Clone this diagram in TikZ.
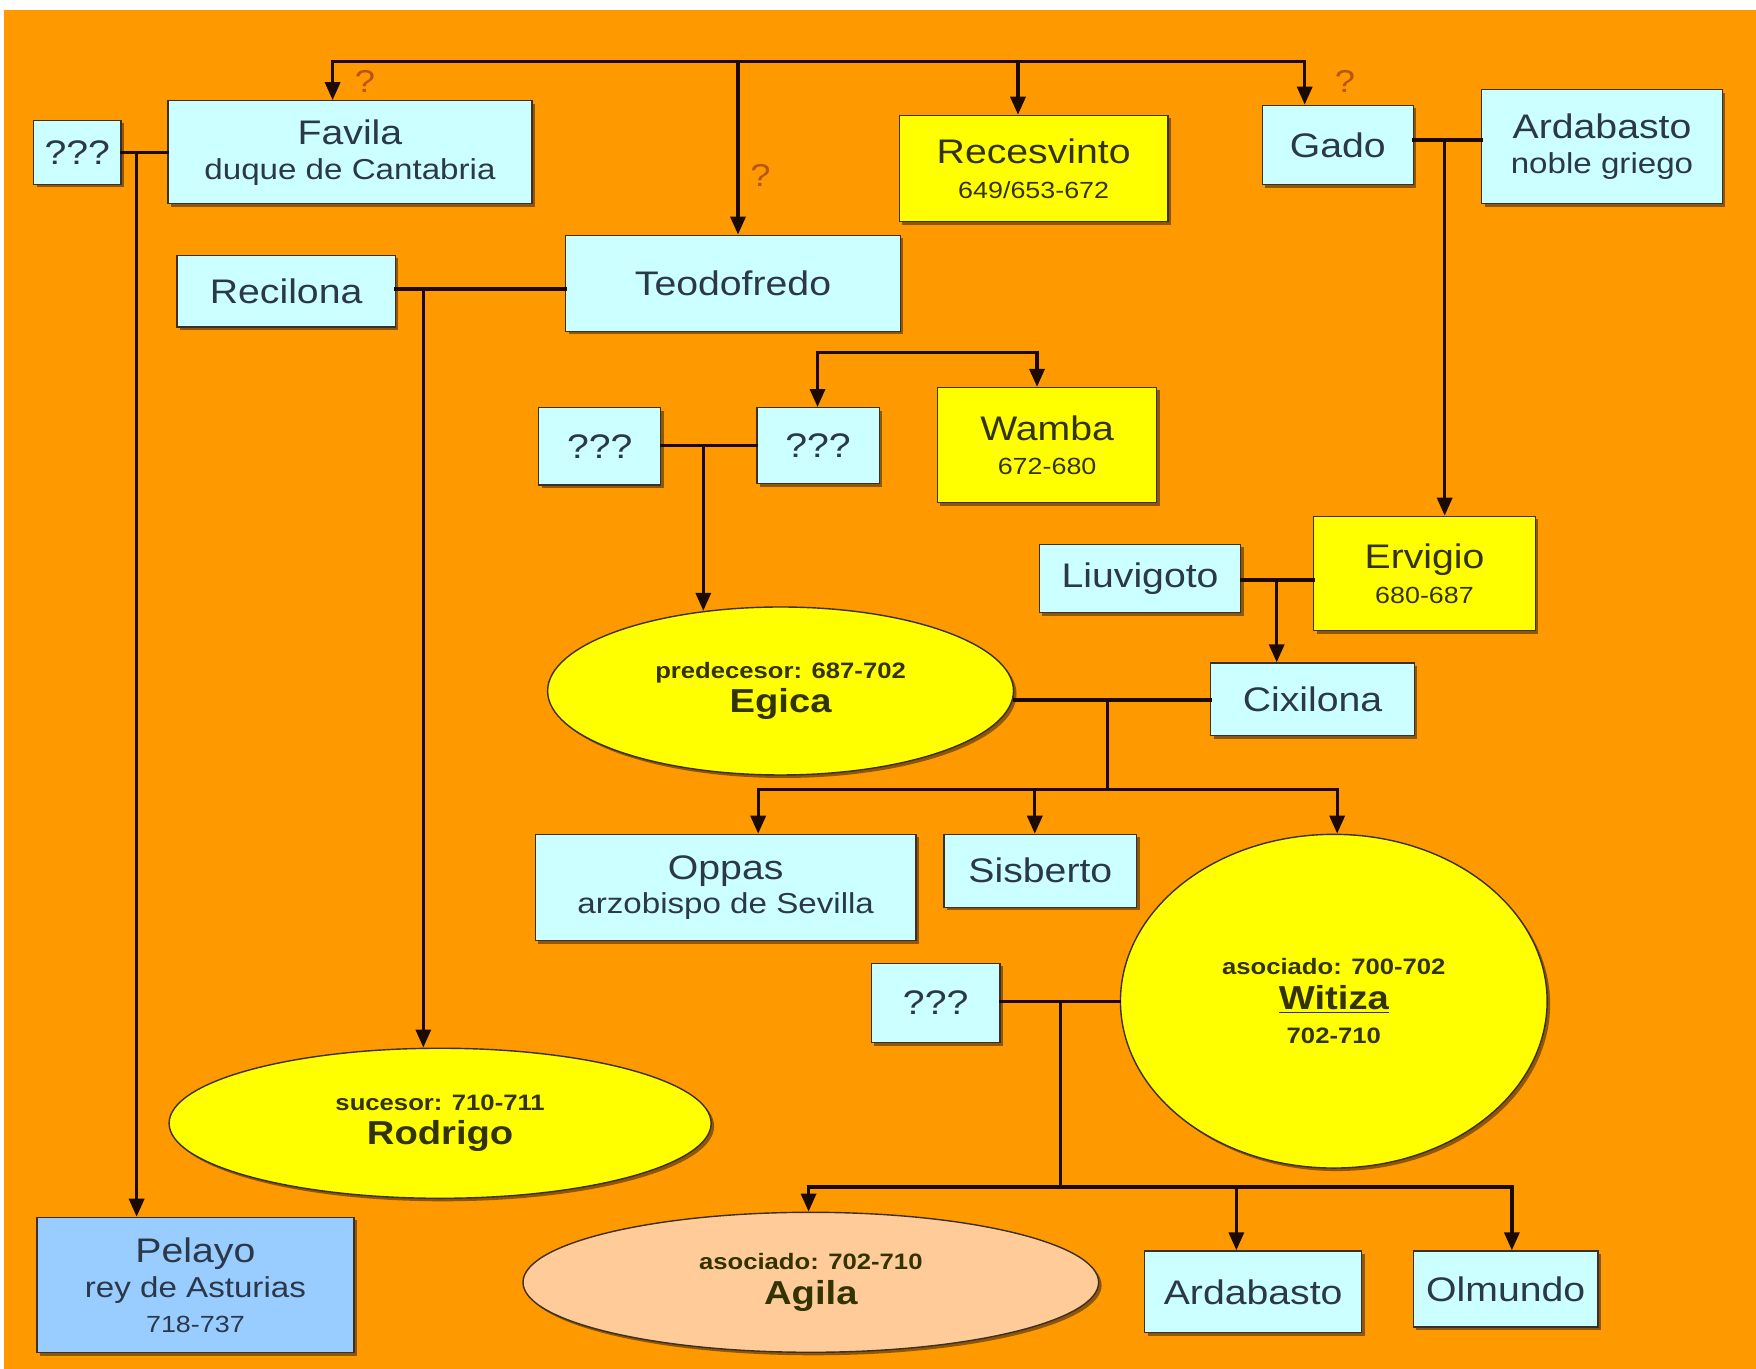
\documentclass[tikz,border=0pt]{standalone}
\usepackage{fontspec}
\setmainfont{Liberation Sans}[FakeStretch=1.15]
\usetikzlibrary{shapes.geometric,arrows.meta,shadows}
\definecolor{bg}{HTML}{FF9900}
\definecolor{lblue}{HTML}{CCFFFF}
\definecolor{yel}{HTML}{FFFF00}
\definecolor{pblue}{HTML}{99CCFF}
\definecolor{peach}{HTML}{FFCC99}
\definecolor{tblue}{HTML}{2A3848}
\definecolor{tyel}{HTML}{333300}
\definecolor{linec}{HTML}{1A0A00}
\definecolor{qmc}{HTML}{B85514}
\newcommand\fN{\fontsize{19.4pt}{19.8pt}\selectfont}
\newcommand\fS{\fontsize{16.4pt}{19.8pt}\selectfont}
\newcommand\fD{\fontsize{13.3pt}{19.8pt}\selectfont}
\newcommand\fL{\fontsize{12.7pt}{19.8pt}\selectfont\bfseries}
\newcommand\fB{\fontsize{18.9pt}{19.8pt}\selectfont\bfseries}
\tikzset{
  bx/.style 2 args={minimum width=#1*0.0224cm, minimum height=#2*0.0224cm, inner sep=0pt},
  shad/.style={drop shadow={shadow xshift=0.06cm, shadow yshift=-0.06cm, opacity=0.55, fill=black!75!brown}},
  basebox/.style={rectangle, draw=linec!85, line width=0.7pt, align=center, shad, font=\fN},
  bluebox/.style={basebox, fill=lblue, text=tblue},
  yelbox/.style={basebox, fill=yel, text=tyel},
  pelbox/.style={basebox, fill=pblue, text=tblue},
  baseell/.style={ellipse, draw=linec!85, line width=0.8pt, text=tyel, align=center, shad, font=\fL},
  yelell/.style={baseell, fill=yel},
  peachell/.style={baseell, fill=peach},
  conn/.style={draw=linec, line width=1.9pt, line cap=rect},
  arr/.style={conn, -{Triangle[length=0.36cm,width=0.3cm]}},
  qm/.style={text=qmc, font=\fontsize{18pt}{18pt}\selectfont, inner sep=0pt}
}
\begin{document}
\begin{tikzpicture}[x=0.0224cm,y=-0.0224cm]
\useasboundingbox (0,0) rectangle (1568,1222.3);
\fill[white] (0,0) rectangle (1568,1222.3);
\fill[bg] (3.6,8.9) rectangle (1568,1222.3);

% nodes
\node[bluebox, bx={78}{57}] (qL) at (69,136) {???};
\node[bluebox, bx={325}{92}] (Favila) at (312.5,136) {Favila\\{\fS duque de Cantabria}};
\node[yelbox, bx={240}{95}] (Recesvinto) at (923,150.5) {Recesvinto\\{\fD 649/653-672}};
\node[bluebox, bx={135}{71}] (Gado) at (1194.5,129.5) {Gado};
\node[bluebox, bx={215}{102}] (ArdN) at (1430.5,131) {Ardabasto\\{\fS noble griego}};
\node[bluebox, bx={195}{64}] (Recilona) at (255.5,260) {Recilona};
\node[bluebox, bx={299}{86}] (Teodofredo) at (654.5,253) {Teodofredo};
\node[bluebox, bx={109}{69}] (q1) at (535.5,398.5) {???};
\node[bluebox, bx={109}{68}] (q2) at (730.5,398) {???};
\node[yelbox, bx={196}{103}] (Wamba) at (935,397.5) {Wamba\\{\fD 672-680}};
\node[yelbox, bx={198}{102}] (Ervigio) at (1272,512) {Ervigio\\{\fD 680-687}};
\node[bluebox, bx={180}{61}] (Liuvigoto) at (1018,516.5) {Liuvigoto};
\node[yelell, bx={416}{150}] (Egica) at (697,617) {predecesor: 687-702\\{\fB Egica}};
\node[bluebox, bx={182}{65}] (Cixilona) at (1172,624.5) {Cixilona};
\node[bluebox, bx={340}{95}] (Oppas) at (648,792.5) {Oppas\\{\fS arzobispo de Sevilla}};
\node[bluebox, bx={172}{65}] (Sisberto) at (929,777.5) {Sisberto};
\node[yelell, bx={381}{298}] (Witiza) at (1191,894) {asociado: 700-702\\{\fB \underline{Witiza}}\\702-710};
\node[bluebox, bx={115}{71}] (q3) at (835.5,895.5) {???};
\node[yelell, bx={484}{134}] (Rodrigo) at (393,1003) {sucesor: 710-711\\{\fB Rodrigo}};
\node[pelbox, bx={283}{121}] (Pelayo) at (174.5,1147.5) {Pelayo\\{\fS rey de Asturias}\\{\fD 718-737}};
\node[peachell, bx={514}{125}] (Agila) at (724,1145) {asociado: 702-710\\{\fB Agila}};
\node[bluebox, bx={194}{73}] (ArdB) at (1119,1153.5) {Ardabasto};
\node[bluebox, bx={165}{68}] (Olmundo) at (1344.5,1151) {Olmundo};

% question marks
\node[qm] (qm1) at (326,73) {?};
\node[qm] (qm2) at (679,157) {?};
\node[qm] (qm3) at (1201,73) {?};

% top line
\coordinate (tA) at (297,55);
\coordinate (tB) at (1165,55);
\coordinate (tT) at (659,55);
\coordinate (tR) at (909,55);
\draw[arr] (tB) -- (tA) -- (tA |- Favila.north);
\draw[arr] (tA) -- (tB) -- (tB |- Gado.north);
\draw[arr] (tT) -- (tT |- Teodofredo.north);
\draw[arr] (tR) -- (tR |- Recesvinto.north);

% ??? - Favila -> Pelayo
\coordinate (mL) at (122,136);
\draw[conn] (qL.east) -- (Favila.west);
\draw[arr] (mL) -- (mL |- Pelayo.north);

% Recilona - Teodofredo -> Rodrigo
\coordinate (mR) at (378,258);
\draw[conn] (mR -| Recilona.east) -- (mR -| Teodofredo.west);
\draw[arr] (mR) -- (mR |- Rodrigo.north);

% children line -> ??? and Wamba
\coordinate (c1) at (730,315);
\coordinate (c2) at (926,315);
\draw[arr] (c2) -- (c1) -- (c1 |- q2.north);
\draw[arr] (c1) -- (c2) -- (c2 |- Wamba.north);

% ??? - ??? -> Egica
\coordinate (mq) at (628,398);
\draw[conn] (mq -| q1.east) -- (mq -| q2.west);
\draw[arr, shorten >=-0.09cm] (mq) -- (mq |- Egica.north);

% Gado - Ardabasto -> Ervigio
\coordinate (mG) at (1290,125);
\draw[conn] (mG -| Gado.east) -- (mG -| ArdN.west);
\draw[arr] (mG) -- (mG |- Ervigio.north);

% Liuvigoto - Ervigio -> Cixilona
\coordinate (mE) at (1140,518);
\draw[conn] (mE -| Liuvigoto.east) -- (mE -| Ervigio.west);
\draw[arr] (mE) -- (mE |- Cixilona.north);

% Egica - Cixilona -> Oppas, Sisberto, Witiza
\coordinate (mC) at (989,625);
\coordinate (bC) at (989,705);
\coordinate (bC1) at (677,705);
\coordinate (bC2) at (1194,705);
\coordinate (bC3) at (924,705);
\draw[conn] (mC -| Egica.east) -- (mC -| Cixilona.west);
\draw[conn] (mC) -- (bC);
\draw[arr] (bC2) -- (bC1) -- (bC1 |- Oppas.north);
\draw[arr] (bC1) -- (bC2) -- (bC2 |- Witiza.north);
\draw[arr] (bC3) -- (bC3 |- Sisberto.north);

% ??? - Witiza -> Agila, Ardabasto, Olmundo
\coordinate (mW) at (947,894);
\coordinate (bW) at (947,1060);
\coordinate (bW1) at (722,1060);
\coordinate (bW2) at (1350,1060);
\coordinate (bW3) at (1104,1060);
\draw[conn] (mW -| q3.east) -- (mW -| Witiza.west);
\draw[conn] (mW) -- (bW);
\draw[arr] (bW2) -- (bW1) -- (bW1 |- Agila.north);
\draw[arr] (bW1) -- (bW2) -- (bW2 |- Olmundo.north);
\draw[arr] (bW3) -- (bW3 |- ArdB.north);
\end{tikzpicture}
\end{document}
